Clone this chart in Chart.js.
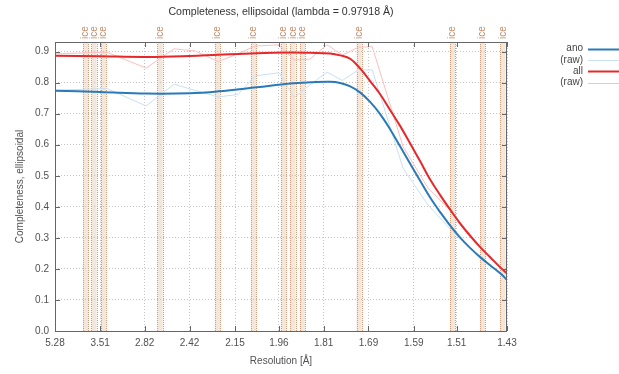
<!DOCTYPE html>
<html><head><meta charset="utf-8">
<script src="https://cdn.jsdelivr.net/npm/chart.js@4.4.1/dist/chart.umd.min.js"></script>
<style>html,body{margin:0;padding:0;background:#fff}#wrap{width:619px;height:374px;position:relative}</style>
</head><body><div id="wrap"><canvas id="c" width="619" height="374"></canvas></div>
<script>
// ---- data ----
const chartTitle = 'Completeness, ellipsoidal (lambda = 0.97918 Å)';
const xTitle = 'Resolution [Å]';
const yTitle = 'Completeness, ellipsoidal';
const xTickLabels = ['5.28','3.51','2.82','2.42','2.15','1.96','1.81','1.69','1.59','1.51','1.43'];
const yTickValues = [0.0,0.1,0.2,0.3,0.4,0.5,0.6,0.7,0.8,0.9];
const seriesNames = ['ano','(raw)','all','(raw)'];

// smoothed curves (resolution in Å)
const smoothRes = [5.28,3.51,2.80,2.42,2.24,2.05,1.919,1.852,1.791,1.763,1.736,1.710,1.686,1.662,1.640,1.618,1.597,1.577,1.558,1.539,1.521,1.504,1.487,1.471,1.455,1.440,1.43];
const anoSmooth = [0.774,0.770,0.765,0.766,0.772,0.785,0.797,0.801,0.803,0.799,0.788,0.768,0.738,0.698,0.650,0.594,0.538,0.483,0.430,0.382,0.339,0.301,0.267,0.238,0.211,0.186,0.165];
const allSmooth = [0.887,0.885,0.883,0.886,0.890,0.895,0.897,0.896,0.894,0.888,0.877,0.845,0.805,0.762,0.712,0.660,0.603,0.546,0.488,0.437,0.390,0.346,0.306,0.270,0.237,0.205,0.185];

// raw curves (resolution in Å)
const rawRes = [5.28,3.370,2.804,2.538,2.381,2.239,2.135,2.056,1.959,1.905,1.852,1.800,1.757,1.715,1.681,1.612,1.562,1.516,1.471,1.43];
const anoRaw = [0.776,0.781,0.725,0.795,0.775,0.754,0.762,0.822,0.832,0.752,0.793,0.834,0.807,0.841,0.841,0.524,0.406,0.318,0.238,0.163];
const allRaw = [0.893,0.898,0.847,0.909,0.902,0.868,0.893,0.918,0.922,0.873,0.876,0.922,0.889,0.914,0.916,0.594,0.460,0.379,0.270,0.183];

// ice rings (Å)
const iceRings = [3.873,3.651,3.444,2.661,2.243,2.064,1.943,1.909,1.877,1.713,1.517,1.467,1.436];

const colors = { ano:'#2a7ab9', anoRaw:'#c8e0f1', all:'#e6282b', allRaw:'#ffbdbd' };

// ---- helpers ----
const inv2 = d => 1/(d*d);
const pts = (res, vals) => res.map((d,i) => ({x: inv2(d), y: vals[i]}));
const FONT = '"Liberation Sans", Arial, sans-serif';

const decor = {
  id: 'decor',
  beforeDatasetsDraw(chart) {
    const {ctx, chartArea: a, scales: {x}} = chart;
    ctx.save();
    iceRings.forEach(d => {
      const s = inv2(d);
      const x0 = x.getPixelForValue(s - 0.0026), x1 = x.getPixelForValue(s + 0.0026);
      ctx.fillStyle = 'rgba(222,184,152,0.35)';
      ctx.fillRect(x0, a.top, x1 - x0, a.bottom - a.top);
      ctx.strokeStyle = '#d29c7a';
      ctx.lineWidth = 1;
      ctx.setLineDash([1,1]);
      [x0, x1].forEach(px => {
        ctx.beginPath();
        ctx.moveTo(Math.round(px)+0.5, a.top);
        ctx.lineTo(Math.round(px)+0.5, a.bottom);
        ctx.stroke();
      });
    });
    ctx.restore();
  },
  afterDatasetsDraw(chart) {
    const {ctx, chartArea: a, scales: {x, y}} = chart;
    ctx.save();
    ctx.strokeStyle = '#666';
    ctx.lineWidth = 1;
    ctx.setLineDash([]);
    ctx.strokeRect(Math.round(a.left)+0.5, Math.round(a.top)+0.5, Math.round(a.right-a.left)-1, Math.round(a.bottom-a.top));
    ctx.beginPath();
    x.ticks.forEach(t => {
      const px = Math.round(x.getPixelForValue(t.value)) + 0.5;
      ctx.moveTo(px, a.bottom); ctx.lineTo(px, a.bottom - 5);
      ctx.moveTo(px, a.top); ctx.lineTo(px, a.top + 5);
    });
    y.ticks.forEach(t => {
      const py = Math.round(y.getPixelForValue(t.value)) + 0.5;
      ctx.moveTo(a.left, py); ctx.lineTo(a.left + 5, py);
      ctx.moveTo(a.right, py); ctx.lineTo(a.right - 5, py);
    });
    ctx.stroke();
    ctx.restore();
  },
  afterDraw(chart) {
    const {ctx, chartArea: a, scales: {x}} = chart;
    ctx.save();
    // title
    ctx.fillStyle = '#333';
    ctx.font = '10.6px ' + FONT;
    ctx.textAlign = 'center';
    ctx.textBaseline = 'middle';
    ctx.fillText(chartTitle, (a.left + a.right)/2, 12);
    // ice labels
    ctx.fillStyle = '#c48c6a';
    ctx.font = '10px ' + FONT;
    iceRings.forEach(d => {
      const px = x.getPixelForValue(inv2(d));
      ctx.save();
      ctx.translate(px, 39);
      ctx.rotate(-Math.PI/2);
      ctx.textAlign = 'left';
      ctx.textBaseline = 'middle';
      ctx.fillText('ice', 0, 0);
      ctx.restore();
    });
    // legend
    ctx.font = '10px ' + FONT;
    ctx.textAlign = 'right';
    ctx.textBaseline = 'middle';
    chart.data.datasets.forEach((ds, i) => {
      const yy = 48.5 + i*11.4;
      ctx.fillStyle = '#444';
      ctx.fillText(ds.label, 583, yy);
      ctx.strokeStyle = ds.borderColor;
      ctx.lineWidth = ds.borderWidth;
      ctx.beginPath();
      ctx.moveTo(588, Math.round(yy)+0.5);
      ctx.lineTo(619, Math.round(yy)+0.5);
      ctx.stroke();
    });
    ctx.restore();
  }
};

new Chart(document.getElementById('c'), {
  type: 'line',
  data: {
    datasets: [
      { label: seriesNames[0], data: pts(smoothRes, anoSmooth), borderColor: colors.ano, borderWidth: 2, tension: 0.4, order: 0 },
      { label: seriesNames[1], data: pts(rawRes, anoRaw), borderColor: colors.anoRaw, borderWidth: 1, tension: 0, order: 1 },
      { label: seriesNames[2], data: pts(smoothRes, allSmooth), borderColor: colors.all, borderWidth: 2, tension: 0.4, order: 0 },
      { label: seriesNames[3], data: pts(rawRes, allRaw), borderColor: colors.allRaw, borderWidth: 1, tension: 0, order: 1 }
    ]
  },
  options: {
    responsive: false,
    animation: false,
    devicePixelRatio: 1,
    parsing: false,
    elements: { point: { radius: 0 }, line: { fill: false } },
    layout: { padding: { top: 42, right: 112, left: 0, bottom: 0 } },
    plugins: { legend: { display: false }, title: { display: false }, tooltip: { enabled: false } },
    scales: {
      x: {
        type: 'linear',
        min: inv2(5.28), max: inv2(1.43),
        afterBuildTicks: s => { s.ticks = xTickLabels.map(l => ({ value: inv2(parseFloat(l)) })); },
        afterFit: s => { s.height = 43; },
        ticks: { callback: (v, i) => xTickLabels[i], color: '#505050', font: { family: FONT, size: 10 }, padding: 6, maxRotation: 0, autoSkip: false },
        grid: { color: '#c4c4c4', lineWidth: 1, drawTicks: false },
        border: { display: false, dash: [1,2] },
        title: { display: true, text: xTitle, color: '#505050', font: { family: FONT, size: 10 }, padding: { top: 0, bottom: 7 } }
      },
      y: {
        type: 'linear',
        min: 0, max: 0.931,
        afterBuildTicks: s => { s.ticks = yTickValues.map(v => ({ value: v })); },
        afterFit: s => { s.width = 55; },
        ticks: { callback: v => v.toFixed(1), color: '#505050', font: { family: FONT, size: 10 }, padding: 6 },
        grid: { color: '#c4c4c4', lineWidth: 1, drawTicks: false },
        border: { display: false, dash: [1,2] },
        title: { display: true, text: yTitle, color: '#505050', font: { family: FONT, size: 10 }, padding: { top: 14, bottom: 0 } }
      }
    }
  },
  plugins: [decor]
});
</script>
</body></html>
